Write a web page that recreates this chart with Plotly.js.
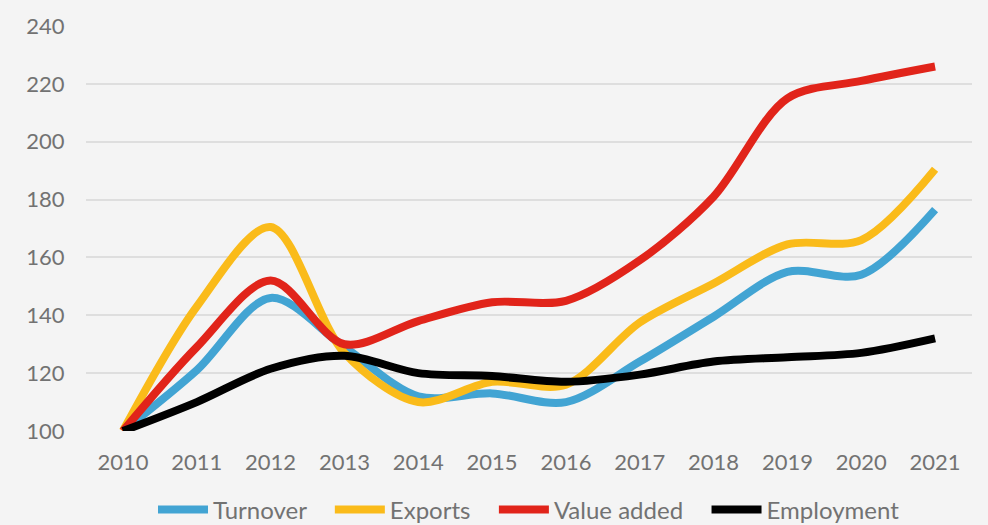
<!DOCTYPE html>
<html>
<head>
<meta charset="utf-8">
<script src="https://cdn.plot.ly/plotly-3.0.1.min.js"></script>
<style>html,body{margin:0;padding:0;background:#f4f4f4;}#chart{width:988px;height:525px;}</style>
</head>
<body>
<div id="chart"></div>
<script>
const years = [2010, 2011, 2012, 2013, 2014, 2015, 2016, 2017, 2018, 2019, 2020, 2021];
const turnover = [100, 121, 146, 129, 112, 113, 110, 124, 139.5, 155, 154, 176.5];
const exports_ = [100, 143, 170.5, 127, 110, 117, 116, 137.5, 151, 164.5, 166, 190.5];
const valueAdded = [100, 129, 152, 130, 138, 144.5, 145, 159, 181, 215, 221, 226];
const employment = [100, 110, 121.5, 126, 120, 119, 117, 119.5, 124, 125.5, 127, 132];
const yTicks = [100, 120, 140, 160, 180, 200, 220, 240];
const seriesNames = ["Turnover", "Exports", "Value added", "Employment"];
const seriesColors = ["#42a4d3", "#fabb1a", "#e1241a", "#000000"];
const seriesValues = [turnover, exports_, valueAdded, employment];

const font = 'Lato, "Open Sans", Arial, sans-serif';
const txt = '#727272';
const pad = '\u00a0\u00a0\u00a0';
const traces = seriesValues.map((v, i) => ({
  x: years, y: v, type: 'scatter', mode: 'lines',
  name: seriesNames[i] + (i < seriesNames.length - 1 ? pad : ''),
  line: {color: seriesColors[i], width: 8, shape: 'spline', smoothing: 0.9},
  hoverinfo: 'skip'
}));

const layout = {
  width: 988, height: 525,
  paper_bgcolor: '#f4f4f4', plot_bgcolor: '#f4f4f4',
  margin: {l: 86, r: 16, t: 26, b: 94, autoexpand: false},
  font: {family: font, size: 22, color: txt},
  showlegend: true,
  legend: {orientation: 'h', x: 0.5, xanchor: 'center', y: -0.195, yanchor: 'middle',
           font: {family: font, size: 24, color: txt}, itemwidth: 50, traceorder: 'normal'},
  xaxis: {range: [2009.5, 2021.5], tickvals: years, ticktext: years.map(String),
          showgrid: false, zeroline: false, showline: false,
          ticks: 'outside', ticklen: 12, tickcolor: 'rgba(0,0,0,0)',
          tickfont: {family: font, size: 22, color: txt}},
  yaxis: {range: [100, 240], tickvals: yTicks,
          showgrid: true, gridcolor: '#dedede', gridwidth: 2, zeroline: false, showline: false,
          ticks: 'outside', ticklen: 16, tickcolor: 'rgba(0,0,0,0)',
          tickfont: {family: font, size: 22, color: txt}}
};
Plotly.newPlot('chart', traces, layout, {displayModeBar: false, staticPlot: true});
</script>
</body>
</html>
